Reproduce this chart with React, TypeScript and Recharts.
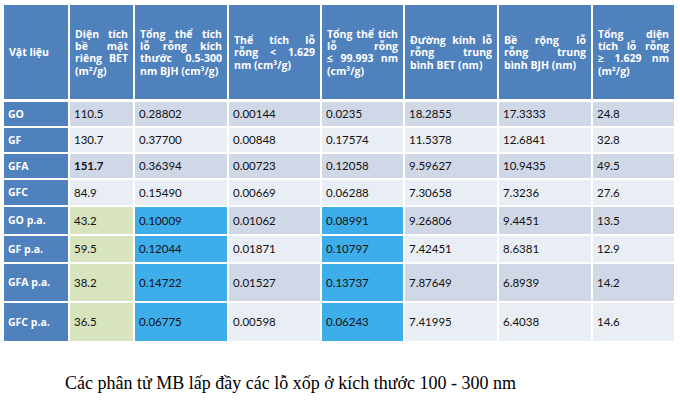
import { Surface, Layer, Rectangle, Text } from "recharts";

// table content
const materials = ["GO", "GF", "GFA", "GFC", "GO p.a.", "GF p.a.", "GFA p.a.", "GFC p.a."];
const betArea = ["110.5", "130.7", "151.7", "84.9", "43.2", "59.5", "38.2", "36.5"];
const totalVolBJH = ["0.28802", "0.37700", "0.36394", "0.15490", "0.10009", "0.12044", "0.14722", "0.06775"];
const microVol = ["0.00144", "0.00848", "0.00723", "0.00669", "0.01062", "0.01871", "0.01527", "0.00598"];
const totalVol = ["0.0235", "0.17574", "0.12058", "0.06288", "0.08991", "0.10797", "0.13737", "0.06243"];
const poreDiamBET = ["18.2855", "11.5378", "9.59627", "7.30658", "9.26806", "7.42451", "7.87649", "7.41995"];
const poreWidthBJH = ["17.3333", "12.6841", "10.9435", "7.3236", "9.4451", "8.6381", "6.8939", "6.4038"];
const mesoArea = ["24.8", "32.8", "49.5", "27.6", "13.5", "12.9", "14.2", "14.6"];

const headers: string[][] = [
  ["Vật liệu"],
  ["Diện tích", "bề mặt", "riêng BET", "(m²/g)"],
  ["Tổng thể tích", "lỗ rỗng kích", "thước 0.5-300", "nm BJH (cm³/g)"],
  ["Thể tích lỗ", "rỗng < 1.629", "nm (cm³/g)"],
  ["Tổng thể tích", "lỗ rỗng", "≤ 99.993 nm", "(cm³/g)"],
  ["Đường kính lỗ", "rỗng trung", "bình BET (nm)"],
  ["Bề rộng lỗ", "rỗng trung", "bình BJH (nm)"],
  ["Tổng diện", "tích lỗ rỗng", "≥ 1.629 nm", "(m²/g)"],
];

const caption = "Các phân tử MB lấp đầy các lỗ xốp ở kích thước 100 - 300 nm";

const columns = [materials, betArea, totalVolBJH, microVol, totalVol, poreDiamBET, poreWidthBJH, mesoArea];

// layout
const colEdges = [4, 69, 134, 228, 321, 404, 498, 592, 675];
const rowEdges = [5, 100, 127, 153, 179, 206, 235, 263, 302, 342];
const FONT = "'Open Sans', 'Noto Sans', sans-serif";
const HEADER_SIZE = 10.5;
const HEADER_BLUE = "#4f81bd";
const ODD = "#d0d8e8";
const EVEN = "#e9edf4";
const GREEN = "#d7e4bd";
const BRIGHT = "#3eaeea";

let ctx: CanvasRenderingContext2D | null = null;
function measure(s: string) {
  if (!ctx) ctx = document.createElement("canvas").getContext("2d");
  if (!ctx) return s.length * 6;
  ctx.font = `700 ${HEADER_SIZE}px 'Open Sans'`;
  return ctx.measureText(s).width;
}

function cellFill(col: number, row: number) {
  if (col === 0) return HEADER_BLUE;
  const pa = materials[row].includes("p.a.");
  if (pa && col === 1) return GREEN;
  if (pa && (col === 2 || col === 4)) return BRIGHT;
  return row % 2 === 0 ? ODD : EVEN;
}

function HeaderCell({ col }: { col: number }) {
  const x0 = colEdges[col] + 6;
  const x1 = colEdges[col + 1] - 6;
  const lines = headers[col];
  const lh = 12.4;
  const cy = (rowEdges[0] + rowEdges[1]) / 2;
  const top = cy - ((lines.length - 1) * lh) / 2;
  const style = { fill: "#fff", fontSize: HEADER_SIZE, fontWeight: 700, fontFamily: FONT };
  return (
    <Layer>
      {lines.map((line, i) => {
        const y = top + i * lh;
        const words = line.split(" ");
        const last = i === lines.length - 1;
        if (last || words.length < 2 || col === 0) {
          return (
            <Text key={i} x={col === 0 ? x0 - 1 : x0} y={y} verticalAnchor="middle" {...style}>
              {line}
            </Text>
          );
        }
        const widths = words.map(measure);
        const gap = (x1 - x0 - widths.reduce((a, b) => a + b, 0)) / (words.length - 1);
        let cx = x0;
        return words.map((w, j) => {
          const px = cx;
          cx += widths[j] + gap;
          return (
            <Text key={`${i}-${j}`} x={px} y={y} verticalAnchor="middle" {...style}>
              {w}
            </Text>
          );
        });
      })}
    </Layer>
  );
}

export default function App() {
  return (
    <div style={{ position: "absolute", left: 0, top: 0, width: 680, height: 401, background: "#fff" }}>
      <Surface width={680} height={401}>
        {headers.map((_, c) => (
          <Rectangle
            key={`h${c}`}
            x={colEdges[c] + (c === 0 ? 0 : 1)}
            y={rowEdges[0]}
            width={colEdges[c + 1] - colEdges[c] - (c === 0 ? 1 : 2)}
            height={rowEdges[1] - rowEdges[0] - 1}
            fill={HEADER_BLUE}
          />
        ))}
        {headers.map((_, c) => (
          <HeaderCell key={`ht${c}`} col={c} />
        ))}
        {materials.map((_, r) =>
          columns.map((vals, c) => {
            const y0 = rowEdges[r + 1] + (r === 0 ? 2 : 1);
            const y1 = rowEdges[r + 2] - 1;
            const x0 = colEdges[c] + (c === 0 ? 0 : 1);
            const x1 = colEdges[c + 1] - 1;
            const bold = c === 0 || (c === 1 && r === 2);
            return (
              <Layer key={`c${r}-${c}`}>
                <Rectangle x={x0} y={y0} width={x1 - x0} height={y1 - y0} fill={cellFill(c, r)} />
                <Text
                  x={x0 + 4}
                  y={(y0 + y1) / 2}
                  verticalAnchor="middle"
                  fill={c === 0 ? "#fff" : "#111"}
                  fontSize={c === 0 ? 10.5 : 11.5}
                  fontWeight={bold ? 700 : 400}
                  fontFamily={c === 0 ? FONT : "Lato, 'Noto Sans', sans-serif"}
                >
                  {vals[r]}
                </Text>
              </Layer>
            );
          })
        )}
        <Text x={65} y={383} verticalAnchor="middle" fontSize={18} fontFamily="'Liberation Serif', 'Times New Roman', serif" fill="#000">
          {caption}
        </Text>
      </Surface>
    </div>
  );
}
